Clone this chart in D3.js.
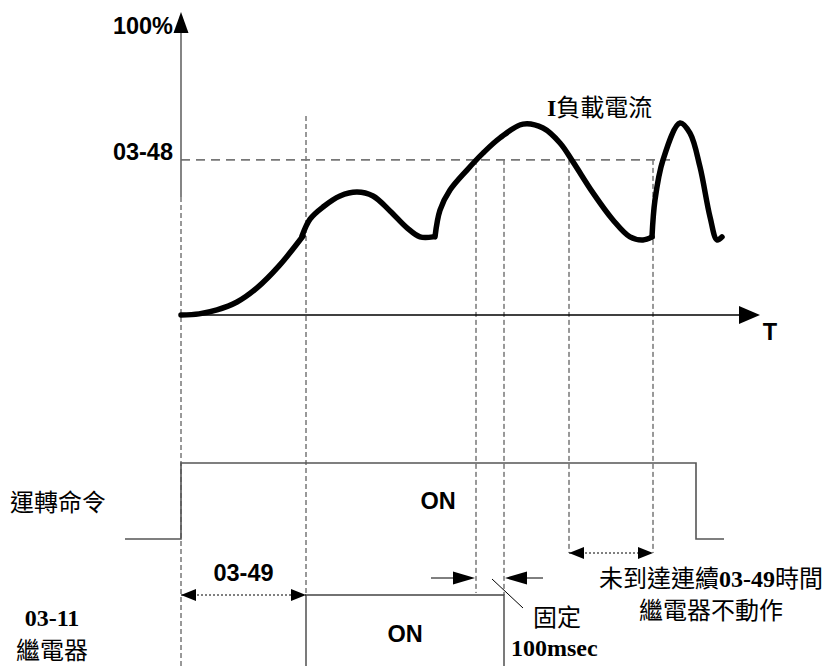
<!DOCTYPE html>
<html><head><meta charset="utf-8">
<script src="https://cdn.jsdelivr.net/npm/d3@7"></script>
<style>
html,body{margin:0;padding:0;background:#fff;}
svg{display:block;}
.sans{font-family:"Liberation Sans",Arial,sans-serif;font-weight:bold;}
.cjk{font-family:"Liberation Serif","Noto Sans CJK TC",serif;}
</style></head>
<body>
<svg id="chart" width="826" height="666"></svg>
<script>
// ---- data (time units, percent of rated current) ----
const thresholdLabel = "03-48";
const thresholdValue = 55;          // % level of 03-48
const topLabel = "100%";
const axisLabel = "T";
// load current curve, piecewise (kinks between segments)
const seg1T = [0, 18, 36, 56, 76, 98, 122];
const seg1V = [0, 0.4, 1.8, 4.6, 9.6, 17.4, 28.0];
const seg2T = [121, 129, 142, 159, 176, 192, 209, 226, 239, 252];
const seg2V = [28.0, 34.0, 38.3, 42.2, 43.6, 42.2, 36.9, 30.9, 27.7, 27.7];
const seg3T = [254, 259, 269, 286, 302, 319, 342, 362, 379, 392, 412, 432, 449, 462, 471];
const seg3V = [27.7, 37.2, 44.3, 51.4, 57.4, 62.8, 67.7, 66.3, 61.0, 54.3, 43.3, 33.7, 27.7, 26.6, 27.7];
const seg4T = [471, 474, 482, 499, 509, 519, 529, 536, 541];
const seg4V = [27.7, 40.8, 55, 68.1, 64.5, 52.5, 34.8, 26.6, 27.7];
const curveLabel = "I負載電流";
// timing events
const runLowStart = -56, runOn = 0, runOff = 515, runLowEnd = 543;
const relayOn = 125, relayOff = 323;
const crossUp1 = 295, crossDown = 388, crossUp2 = 472;
const runLabel = "運轉命令";
const relayLabel1 = "03-11", relayLabel2 = "繼電器";
const onLabel = "ON";
const delayLabel = "03-49";
const fixedLabel1 = "固定", fixedLabel2 = "100msec";
const noteLine1 = ["未到達連續", "03-49", "時間"];
const noteLine2 = "繼電器不動作";

// ---- scales ----
const x = d3.scaleLinear().domain([0, 580]).range([181, 761]);
const y = d3.scaleLinear().domain([0, 100]).range([315, 33]);

const svg = d3.select("#chart");

const ySig = {runHigh: 463, runLow: 539, relayTop: 595, relayBottom: 672, arr03: 595, arr100: 578, arrNote: 553};

// ---- dashed verticals ----
const dashed = [
  {t: 0, y1: 197, y2: 666},
  {t: relayOn, y1: 116, y2: ySig.relayTop},
  {t: crossUp1, y1: y(thresholdValue), y2: 593},
  {t: relayOff, y1: y(thresholdValue), y2: ySig.relayTop},
  {t: crossDown, y1: y(thresholdValue), y2: ySig.arrNote},
  {t: crossUp2, y1: y(thresholdValue), y2: ySig.arrNote}
];
svg.selectAll("line.dv").data(dashed).join("line").attr("class","dv")
  .attr("x1", d => x(d.t)).attr("x2", d => x(d.t))
  .attr("y1", d => d.y1).attr("y2", d => d.y2)
  .attr("stroke", "#333").attr("stroke-width", 1).attr("stroke-dasharray", "5,3");

// threshold line
svg.append("line").attr("x1", x(0)).attr("x2", x(489)).attr("y1", y(thresholdValue)).attr("y2", y(thresholdValue))
  .attr("stroke", "#777").attr("stroke-width", 1.6).attr("stroke-dasharray", "9,6");

// y axis
svg.append("line").attr("x1", x(0)).attr("x2", x(0)).attr("y1", y(100)).attr("y2", 197)
  .attr("stroke", "#666").attr("stroke-width", 1.6);
svg.append("path").attr("d", `M${x(0)},12 L${x(0)-7.5},${y(100)} L${x(0)+7.5},${y(100)} Z`).attr("fill", "#000");
// x axis
svg.append("line").attr("x1", x(0)).attr("x2", x(560)).attr("y1", y(0)).attr("y2", y(0))
  .attr("stroke", "#000").attr("stroke-width", 1.5);
svg.append("path").attr("d", `M${x(579)},${y(0)} L${x(558)},${y(0)-9} L${x(558)},${y(0)+9} Z`).attr("fill", "#000");

svg.append("text").attr("class","sans").attr("x", 173).attr("y", 34).attr("text-anchor","end")
  .attr("font-size", 23.5).text(topLabel);
svg.append("text").attr("class","sans").attr("x", 173).attr("y", y(thresholdValue)).attr("text-anchor","end")
  .attr("font-size", 23.5).text(thresholdLabel);
svg.append("text").attr("class","sans").attr("x", x(589)).attr("y", 340).attr("text-anchor","middle")
  .attr("font-size", 23.5).text(axisLabel);

// ---- load current curve ----
const line = d3.line().x(d => x(d[0])).y(d => y(d[1])).curve(d3.curveCatmullRom.alpha(0.5));
const segs = [[seg1T, seg1V], [seg2T, seg2V], [seg3T, seg3V], [seg4T, seg4V]];
segs.forEach(([T, V]) => {
  svg.append("path").attr("d", line(T.map((t, i) => [t, V[i]])))
    .attr("fill", "none").attr("stroke", "#000").attr("stroke-width", 5.5)
    .attr("stroke-linecap", "round").attr("stroke-linejoin", "round");
});
const cl = svg.append("text").attr("class","cjk").attr("x", 547).attr("y", 116).attr("font-size", 24);
cl.append("tspan").attr("font-weight","bold").text(curveLabel[0]);
cl.append("tspan").text(curveLabel.slice(1));

// ---- run command signal ----
const runPts = [[runLowStart, ySig.runLow], [runOn, ySig.runLow], [runOn, ySig.runHigh], [runOff, ySig.runHigh], [runOff, ySig.runLow], [runLowEnd, ySig.runLow]];
svg.append("path").attr("d", d3.line().x(d => x(d[0])).y(d => d[1])(runPts))
  .attr("fill","none").attr("stroke","#555").attr("stroke-width",1.6);
svg.append("text").attr("class","cjk").attr("x", 10).attr("y", 511).attr("font-size", 24).text(runLabel);
svg.append("text").attr("class","sans").attr("x", 438).attr("y", 509).attr("text-anchor","middle").attr("font-size", 23.5).text(onLabel);

// ---- relay signal ----
const relayPts = [[relayOn, ySig.relayBottom], [relayOn, ySig.relayTop], [relayOff, ySig.relayTop], [relayOff, ySig.relayBottom]];
svg.append("path").attr("d", d3.line().x(d => x(d[0])).y(d => d[1])(relayPts))
  .attr("fill","none").attr("stroke","#444").attr("stroke-width",1.4);
svg.append("text").attr("class","sans").attr("x", (x(relayOn)+x(relayOff))/2).attr("y", 642).attr("text-anchor","middle").attr("font-size", 23.5).text(onLabel);
svg.append("text").attr("class","cjk").attr("x", 52).attr("y", 626).attr("text-anchor","middle").attr("font-size", 24).attr("font-weight","bold").text(relayLabel1);
svg.append("text").attr("class","cjk").attr("x", 52).attr("y", 659).attr("text-anchor","middle").attr("font-size", 24).text(relayLabel2);

// ---- arrows ----
function head(tipX, yy, dir, len, hw) {
  svg.append("path").attr("d", `M${tipX},${yy} L${tipX - dir*len},${yy-hw} L${tipX - dir*len},${yy+hw} Z`).attr("fill","#000");
}
function dblArrow(t1, t2, yy) {
  svg.append("line").attr("x1", x(t1)).attr("x2", x(t2)).attr("y1", yy).attr("y2", yy)
    .attr("stroke","#000").attr("stroke-width",1).attr("stroke-dasharray","2,2");
  head(x(t1), yy, -1, 15, 6);
  head(x(t2), yy, 1, 15, 6);
}
dblArrow(runOn, relayOn, ySig.arr03);
svg.append("text").attr("class","sans").attr("x", (x(runOn)+x(relayOn))/2).attr("y", 581).attr("text-anchor","middle").attr("font-size", 23.5).text(delayLabel);
dblArrow(crossDown, crossUp2, ySig.arrNote);

// 100 msec arrows
svg.append("line").attr("x1", x(crossUp1) - 45).attr("x2", x(crossUp1) - 15).attr("y1", ySig.arr100).attr("y2", ySig.arr100).attr("stroke","#000").attr("stroke-width",1);
head(x(crossUp1) - 1, ySig.arr100, 1, 22, 6.5);
svg.append("line").attr("x1", x(relayOff) + 39).attr("x2", x(relayOff) + 15).attr("y1", ySig.arr100).attr("y2", ySig.arr100).attr("stroke","#000").attr("stroke-width",1);
head(x(relayOff) + 1, ySig.arr100, -1, 22, 6.5);
svg.append("line").attr("x1", 492).attr("y1", 579).attr("x2", 523).attr("y2", 608).attr("stroke","#000").attr("stroke-width",1);
svg.append("text").attr("class","cjk").attr("x", 533).attr("y", 626).attr("font-size", 24).text(fixedLabel1);
svg.append("text").attr("class","cjk").attr("x", 511).attr("y", 656).attr("font-size", 24).attr("font-weight","bold").text(fixedLabel2);

// note text
const n1 = svg.append("text").attr("class","cjk").attr("x", 711).attr("y", 587).attr("text-anchor","middle").attr("font-size", 24);
n1.append("tspan").text(noteLine1[0]);
n1.append("tspan").attr("font-weight","bold").text(noteLine1[1]);
n1.append("tspan").text(noteLine1[2]);
svg.append("text").attr("class","cjk").attr("x", 711).attr("y", 619).attr("text-anchor","middle").attr("font-size", 24).text(noteLine2);
</script>
</body></html>
